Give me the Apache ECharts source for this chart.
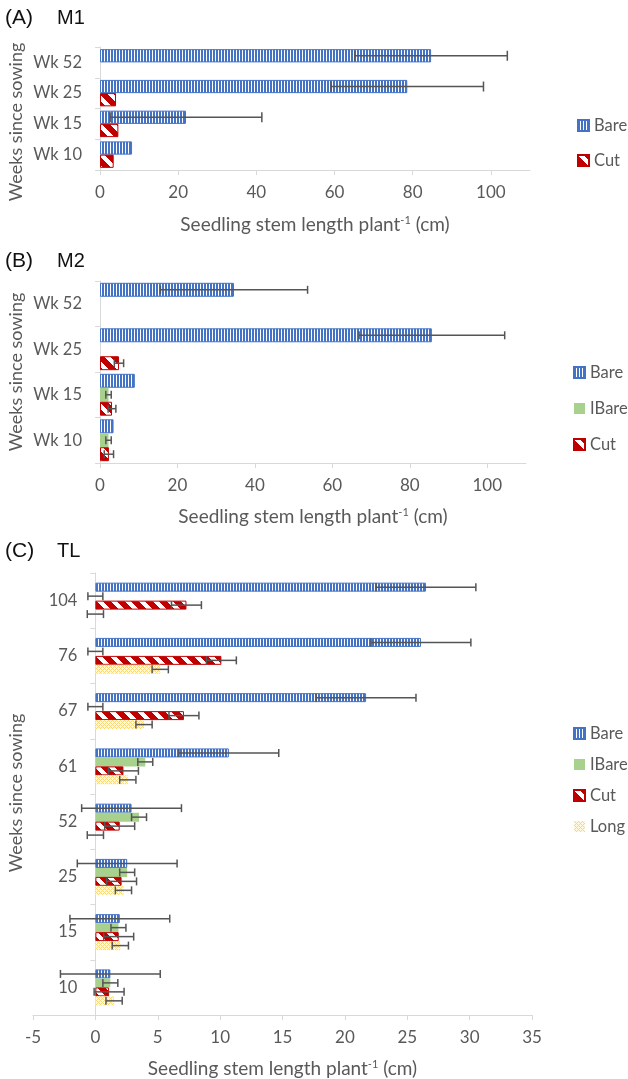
<!DOCTYPE html>
<html><head><meta charset="utf-8">
<script src="https://cdn.jsdelivr.net/npm/echarts@6/dist/echarts.min.js"></script>
<style>html,body{margin:0;padding:0;background:#fff}#c{width:628px;height:1079px}</style>
</head><body><div id="c"></div>
<script>
// ---------- data ----------
const catsA = ['Wk 52', 'Wk 25', 'Wk 15', 'Wk 10'];
const bareA = [84.7, 78.6, 22.0, 8.2];
const bareAErr = [19.5, 19.5, 19.4, null];
const cutA = [null, 4.1, 4.7, 3.5];
const cutAErr = [null, null, null, null];
const xTicksA = [0, 20, 40, 60, 80, 100];

const catsB = ['Wk 52', 'Wk 25', 'Wk 15', 'Wk 10'];
const bareB = [34.6, 85.7, 9.0, 3.5];
const bareBErr = [19.0, 18.8, null, null];
const ibareB = [null, null, 2.2, 2.2];
const ibareBErr = [null, null, 0.7, 0.7];
const cutB = [null, 4.9, 3.1, 2.3];
const cutBErr = [null, 1.2, 1.0, 1.2];
const xTicksB = [0, 20, 40, 60, 80, 100];

const catsC = ['104', '76', '67', '61', '52', '25', '15', '10'];
const bareC = [26.5, 26.1, 21.7, 10.7, 2.9, 2.55, 1.96, 1.2];
const bareCErr = [4.0, 4.0, 4.0, 4.0, 4.0, 4.0, 4.0, 4.0];
const ibareC = [0, 0, 0, 4.0, 3.5, 2.55, 1.85, 1.2];
const ibareCErr = [0.6, 0.6, 0.6, 0.6, 0.6, 0.6, 0.6, 0.6];
const cutC = [7.3, 10.1, 7.1, 2.25, 1.95, 2.1, 1.87, 1.1];
const cutCErr = [1.2, 1.2, 1.2, 1.2, 1.2, 1.2, 1.2, 1.2];
const longC = [0, 5.2, 3.9, 2.6, 0, 2.25, 2.0, 1.5];
const longCErr = [0.65, 0.65, 0.65, 0.65, 0.65, 0.65, 0.65, 0.65];
const xTicksC = [-5, 0, 5, 10, 15, 20, 25, 30, 35];

// ---------- styles ----------
const GRAY = '#595959', AXIS = '#D9D9D9', FONT = 'Lato, "Open Sans", sans-serif';
function mkCanvas(w, h, fn) { const c = document.createElement('canvas'); c.width = w; c.height = h; fn(c.getContext('2d')); return c; }
const barePat = { image: mkCanvas(3, 3, g => { g.fillStyle = '#4472C4'; g.fillRect(0, 0, 3, 3); g.fillStyle = '#fff'; g.fillRect(2, 0, 1, 3); }), repeat: 'repeat' };
const cutPat = { image: mkCanvas(14, 14, g => { g.fillStyle = '#C00000'; g.fillRect(0, 0, 14, 14); g.fillStyle = '#fff';
  for (let y = 0; y < 14; y++) for (let x = 0; x < 14; x++) if ((((x - y) % 14) + 14) % 14 < 6) g.fillRect(x, y, 1, 1); }), repeat: 'repeat' };
const longPat = { image: mkCanvas(4, 4, g => { g.fillStyle = '#FFF8E1'; g.fillRect(0, 0, 4, 4); g.fillStyle = '#FFD966';
  for (let y = 0; y < 4; y++) for (let x = 0; x < 4; x++) if ((x + y) % 4 === 0 || (((x - y) % 4) + 4) % 4 === 0) g.fillRect(x, y, 1, 1); }), repeat: 'repeat' };
const styles = {
  Bare: { color: barePat, borderColor: '#4472C4', borderWidth: 1 },
  IBare: { color: '#A9D18E' },
  Cut: { color: cutPat, borderColor: '#C00000', borderWidth: 1 },
  Long: { color: longPat }
};

const panels = [
  { cats: catsA, ticks: xTicksA, min: 0, max: 110, interval: 20, grid: { left: 100, top: 47, width: 430, height: 123 }, gap: 0.14, cap: 10, yOffset: 0,
    series: [['Bare', bareA, bareAErr], ['Cut', cutA, cutAErr]], nameGap: 45, legend: { left: 577, top: 117, gap: 18 } },
  { cats: catsB, ticks: xTicksB, min: 0, max: 110, interval: 20, grid: { left: 100, top: 281, width: 426, height: 182 }, gap: 0.08, cap: 8, yOffset: 0,
    series: [['Bare', bareB, bareBErr], ['IBare', ibareB, ibareBErr], ['Cut', cutB, cutBErr]], nameGap: 44, legend: { left: 573, top: 364, gap: 19 } },
  { cats: catsC, ticks: xTicksC, min: -5, max: 35, interval: 5, grid: { left: 33, top: 573, width: 499, height: 442 }, gap: 0.35, cap: 8, yOffset: -62.4,
    series: [['Bare', bareC, bareCErr], ['IBare', ibareC, ibareCErr], ['Cut', cutC, cutCErr], ['Long', longC, longCErr]], nameGap: 44, legend: { left: 573, top: 725, gap: 14 } }
];

const grids = [], xAxes = [], yAxes = [], series = [], legends = [];
panels.forEach((p, gi) => {
  grids.push(Object.assign({ containLabel: false, outerBoundsMode: 'none' }, p.grid));
  xAxes.push({
    type: 'value', gridIndex: gi, min: p.min, max: p.max, interval: p.interval,
    splitLine: { show: false },
    axisLine: { show: true, lineStyle: { color: AXIS, width: 1 } },
    axisTick: { show: true, length: 5, lineStyle: { color: AXIS }, customValues: p.ticks },
    axisLabel: { color: GRAY, fontSize: 17, fontFamily: FONT, margin: 14, customValues: p.ticks },
    name: 'Seedling stem length plant{sup|-1} (cm)', nameLocation: 'middle', nameGap: p.nameGap,
    nameTextStyle: { color: GRAY, fontSize: 19, fontFamily: FONT, lineHeight: 20,
      rich: { sup: { fontSize: 11, lineHeight: 11, verticalAlign: 'top', color: GRAY, fontFamily: FONT } } }
  });
  yAxes.push({
    type: 'category', gridIndex: gi, data: p.cats, inverse: true, offset: p.yOffset,
    axisLine: { show: true, onZero: false, lineStyle: { color: AXIS, width: 1 } },
    axisTick: { show: true, length: 5, lineStyle: { color: AXIS } },
    axisLabel: { color: GRAY, fontSize: 16.5, fontFamily: FONT, margin: 18 },
    splitLine: { show: false }
  });
  const n = p.series.length;
  p.series.forEach(([name, vals, errs], idx) => {
    series.push({
      type: 'bar', name, data: vals, xAxisIndex: gi, yAxisIndex: gi,
      barGap: '0%', barCategoryGap: (p.gap * 100) + '%', itemStyle: styles[name], silent: true, z: 2
    });
    const edata = [];
    vals.forEach((v, i) => { if (v != null && errs[i] != null) edata.push([v, i, errs[i]]); });
    series.push({
      type: 'custom', name: 'err-' + gi + '-' + name, xAxisIndex: gi, yAxisIndex: gi, data: edata, z: 5, silent: true,
      encode: { x: 0, y: 1 },
      renderItem: (params, api) => {
        const v = api.value(0), ci = api.value(1), e = api.value(2);
        const c = api.coord([v, ci]);
        const band = api.size([0, 1])[1];
        const total = band * (1 - p.gap), bw = total / n;
        const y = c[1] - total / 2 + (idx + 0.5) * bw;
        const x1 = api.coord([v - e, ci])[0], x2 = api.coord([v + e, ci])[0];
        const st = { stroke: '#555555', lineWidth: 1.5 };
        const h = p.cap / 2;
        return { type: 'group', children: [
          { type: 'line', shape: { x1, y1: y, x2, y2: y }, style: st },
          { type: 'line', shape: { x1, y1: y - h, x2: x1, y2: y + h }, style: st },
          { type: 'line', shape: { x1: x2, y1: y - h, x2: x2, y2: y + h }, style: st }
        ] };
      }
    });
  });
  legends.push({
    orient: 'vertical', left: p.legend.left, top: p.legend.top, padding: 0, itemGap: p.legend.gap,
    itemWidth: 11, itemHeight: 11, icon: 'rect', selectedMode: false,
    data: p.series.map(s => s[0]),
    textStyle: { color: GRAY, fontSize: 16.5, fontFamily: FONT, lineHeight: 16 }
  });
});

const panelTitles = [['(A)', 'M1', 18], ['(B)', 'M2', 261], ['(C)', 'TL', 551]];
const yNames = [['Weeks since sowing', 122], ['Weeks since sowing', 372], ['Weeks since sowing', 793]];
const graphic = [];
panelTitles.forEach(([a, b, y]) => {
  graphic.push({ type: 'text', x: 5, y, style: { text: a, font: '21px "Liberation Sans", Arial, sans-serif', fill: '#111', textVerticalAlign: 'middle' } });
  graphic.push({ type: 'text', x: 57, y, style: { text: b, font: '20px "Liberation Sans", Arial, sans-serif', fill: '#111', textVerticalAlign: 'middle' } });
});
yNames.forEach(([t, y]) => {
  graphic.push({ type: 'text', x: 16, y, rotation: Math.PI / 2, style: { text: t, font: '18px ' + FONT, fill: GRAY, textAlign: 'center', textVerticalAlign: 'middle' } });
});

const chart = echarts.init(document.getElementById('c'), null, { renderer: 'canvas' });
chart.setOption({
  animation: false, backgroundColor: '#fff',
  grid: grids, xAxis: xAxes, yAxis: yAxes, series, legend: legends, graphic
});
</script></body></html>
